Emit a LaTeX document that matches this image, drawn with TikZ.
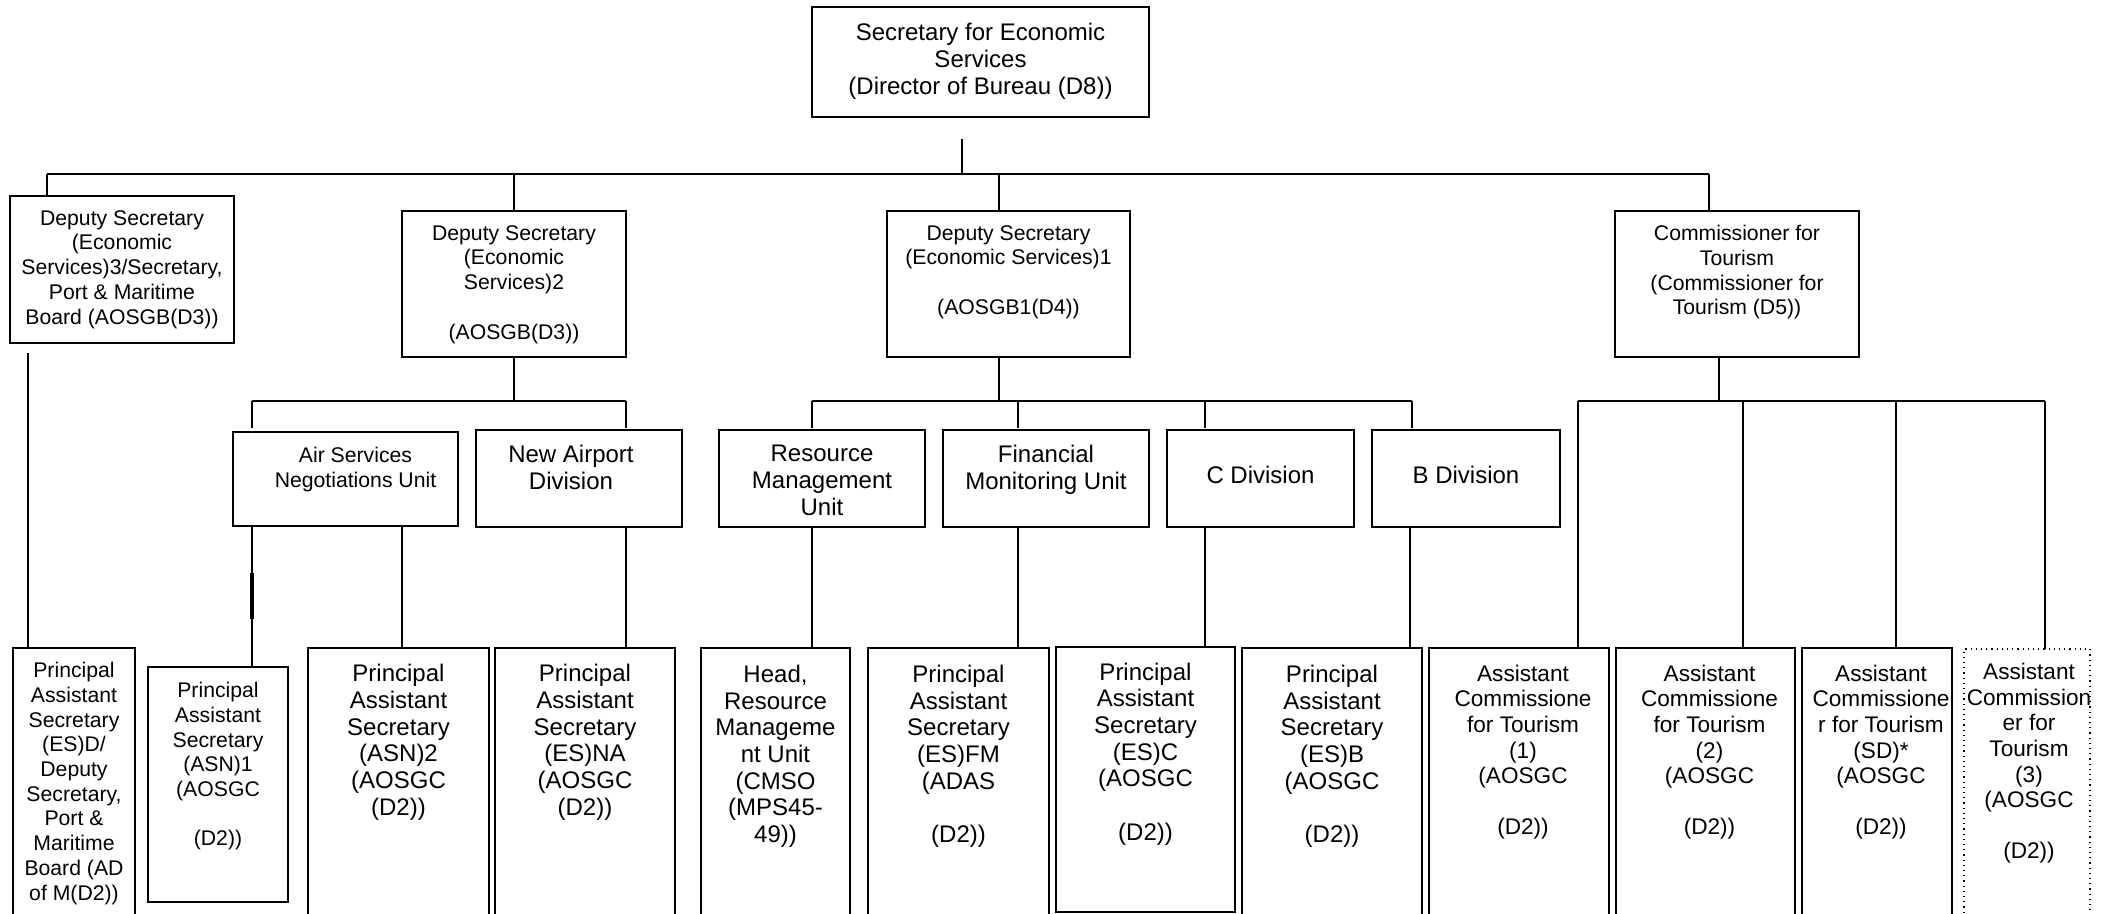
\documentclass[tikz,border=0pt]{standalone}
\usepackage{fontspec}
\setmainfont{Liberation Sans}
\tikzset{
  boxst/.style={draw, line width=0.9pt, inner sep=0pt, outer sep=0pt},
  dotbox/.style={draw, line width=0.6pt, dotted, inner sep=0pt, outer sep=0pt},
  conn/.style={line width=0.8pt},
  txt/.style={anchor=north, align=center, inner sep=0pt},
  fA/.style={font=\fontsize{12}{13.35}\selectfont},
  fB/.style={font=\fontsize{10.6}{12.35}\selectfont},
  fC/.style={font=\fontsize{11.3}{12.8}\selectfont},
}
\newcommand{\orgbox}[6]{%
  \pgfmathsetmacro\bw{(#4-#2)*0.5}\pgfmathsetmacro\bh{(#5-#3)*0.5}%
  \node[#6, minimum width=\bw pt, minimum height=\bh pt, anchor=north west] (#1) at (#2,#3) {};}
\newcommand{\orgtext}[4]{%
  \node[txt,#3] (#1-t) at ([#2]#1.north) {#4};}
\begin{document}
\begin{tikzpicture}[x=0.5pt,y=-0.5pt]
\clip (0,0) rectangle (2109,914);
\fill[white] (0,0) rectangle (2109,914);
% ---- boxes ----
\orgbox{top}{812}{7}{1149}{117}{boxst}
\orgbox{ds3}{10}{196}{234}{343}{boxst}
\orgbox{ds2}{402}{211}{626}{357}{boxst}
\orgbox{ds1}{887}{211}{1130}{357}{boxst}
\orgbox{comm}{1615}{211}{1859}{357}{boxst}
\orgbox{asn}{233}{432}{458}{526}{boxst}
\orgbox{nad}{476}{430}{682}{527}{boxst}
\orgbox{rmu}{719}{430}{925}{527}{boxst}
\orgbox{fmu}{943}{430}{1149}{527}{boxst}
\orgbox{cdiv}{1167}{430}{1354}{527}{boxst}
\orgbox{bdiv}{1372}{430}{1560}{527}{boxst}
\orgbox{esd}{13}{648}{135}{930}{boxst}
\orgbox{asn1}{148}{667}{288}{902}{boxst}
\orgbox{asn2}{308}{648}{489}{930}{boxst}
\orgbox{esna}{495}{648}{675}{930}{boxst}
\orgbox{head}{701}{648}{850}{930}{boxst}
\orgbox{esfm}{868}{648}{1049}{930}{boxst}
\orgbox{esc}{1056}{647}{1235}{912}{boxst}
\orgbox{esb}{1242}{648}{1422}{930}{boxst}
\orgbox{ac1}{1429}{648}{1609}{930}{boxst}
\orgbox{ac2}{1616}{648}{1795}{930}{boxst}
\orgbox{acsd}{1802}{648}{1952}{930}{boxst}
\orgbox{ac3}{1964}{649}{2090}{930}{dotbox}
% ---- texts ----
\orgtext{top}{yshift=-8pt}{fA}{Secretary for Economic\\Services\\(Director of Bureau (D8))}
\orgtext{ds3}{yshift=-7pt}{fB}{Deputy Secretary\\(Economic\\Services)3/Secretary,\\Port \& Maritime\\Board (AOSGB(D3))}
\orgtext{ds2}{yshift=-7pt}{fB}{Deputy Secretary\\(Economic\\Services)2\\~\\(AOSGB(D3))}
\orgtext{ds1}{yshift=-7pt}{fB}{Deputy Secretary\\(Economic Services)1\\~\\(AOSGB1(D4))}
\orgtext{comm}{yshift=-7pt}{fB}{Commissioner for\\Tourism\\(Commissioner for\\Tourism (D5))}
\orgtext{asn}{xshift=5pt,yshift=-7.5pt}{fB}{Air Services\\Negotiations Unit}
\orgtext{nad}{xshift=-4pt,yshift=-7.5pt}{fA}{New Airport\\Division}
\orgtext{rmu}{yshift=-7.5pt}{fA}{Resource\\Management\\Unit}
\orgtext{fmu}{yshift=-7.5pt}{fA}{Financial\\Monitoring Unit}
\orgtext{cdiv}{yshift=-18pt}{fA}{C Division}
\orgtext{bdiv}{yshift=-18pt}{fA}{B Division}
\orgtext{esd}{yshift=-7pt}{fB}{Principal\\Assistant\\Secretary\\(ES)D/\\Deputy\\Secretary,\\Port \&\\Maritime\\Board (AD\\of M(D2))}
\orgtext{asn1}{yshift=-7.5pt}{fB}{Principal\\Assistant\\Secretary\\(ASN)1\\(AOSGC\\~\\(D2))}
\orgtext{asn2}{yshift=-8pt}{fA}{Principal\\Assistant\\Secretary\\(ASN)2\\(AOSGC\\(D2))}
\orgtext{esna}{yshift=-8pt}{fA}{Principal\\Assistant\\Secretary\\(ES)NA\\(AOSGC\\(D2))}
\orgtext{head}{yshift=-8.3pt}{fA}{Head,\\Resource\\Manageme\\nt Unit\\(CMSO\\(MPS45-\\49))}
\orgtext{esfm}{yshift=-8.3pt}{fA}{Principal\\Assistant\\Secretary\\(ES)FM\\(ADAS\\~\\(D2))}
\orgtext{esc}{yshift=-7.7pt}{fA}{Principal\\Assistant\\Secretary\\(ES)C\\(AOSGC\\~\\(D2))}
\orgtext{esb}{yshift=-8.3pt}{fA}{Principal\\Assistant\\Secretary\\(ES)B\\(AOSGC\\~\\(D2))}
\orgtext{ac1}{xshift=2pt,yshift=-8.3pt}{fC}{Assistant\\Commissione\\for Tourism\\(1)\\(AOSGC\\~\\(D2))}
\orgtext{ac2}{xshift=2pt,yshift=-8.3pt}{fC}{Assistant\\Commissione\\for Tourism\\(2)\\(AOSGC\\~\\(D2))}
\orgtext{acsd}{xshift=2pt,yshift=-8.3pt}{fC}{Assistant\\Commissione\\r for Tourism\\(SD)*\\(AOSGC\\~\\(D2))}
\orgtext{ac3}{xshift=1pt,yshift=-7pt}{fC}{Assistant\\Commission\\er for\\Tourism\\(3)\\(AOSGC\\~\\(D2))}
% ---- connectors ----
\coordinate (t0) at (962,139);
\coordinate (busL) at (47,174);
\coordinate (busR) at (1709,174);
\draw[conn] (t0) -- (962,174);
\draw[conn] (busL) -- (busR);
\draw[conn] (busL) -- (busL |- ds3.north);
\draw[conn] (514,174) -- (514,0 |- ds2.north);
\draw[conn] (999,174) -- (999,0 |- ds1.north);
\draw[conn] (busR) -- (busR |- comm.north);
% DS3 to ESD
\coordinate (d3) at (28,353);
\draw[conn] (d3) -- (d3 |- esd.north);
% DS2 group
\coordinate (s2L) at (252,401);
\coordinate (s2R) at (626,401);
\draw[conn] (514,0 |- ds2.south) -- (514,401);
\draw[conn] (s2L) -- (s2R);
\draw[conn] (s2L) -- (252,428);
\draw[conn] (s2R) -- (626,428);
\draw[conn] (252,0 |- asn.south) -- (252,0 |- asn1.north);
\draw[line width=1.8pt] (252,573) -- (252,619);
\draw[conn] (402,0 |- asn.south) -- (402,0 |- asn2.north);
\draw[conn] (626,0 |- nad.south) -- (626,0 |- esna.north);
% DS1 group
\coordinate (s1L) at (812,401);
\coordinate (s1R) at (1412,401);
\draw[conn] (999,0 |- ds1.south) -- (999,401);
\draw[conn] (s1L) -- (s1R);
\foreach \xx in {812,1018,1205,1412} \draw[conn] (\xx,401) -- (\xx,428);
\draw[conn] (812,0 |- rmu.south) -- (812,0 |- head.north);
\draw[conn] (1018,0 |- fmu.south) -- (1018,0 |- esfm.north);
\draw[conn] (1205,0 |- cdiv.south) -- (1205,0 |- esc.north);
\draw[conn] (1410,0 |- bdiv.south) -- (1410,0 |- esb.north);
% Tourism group
\coordinate (s4L) at (1578,401);
\coordinate (s4R) at (2045,401);
\draw[conn] (1719,0 |- comm.south) -- (1719,401);
\draw[conn] (s4L) -- (s4R);
\draw[conn] (s4L) -- (s4L |- ac1.north);
\draw[conn] (1743,401) -- (1743,0 |- ac2.north);
\draw[conn] (1896,401) -- (1896,0 |- acsd.north);
\draw[conn] (s4R) -- (s4R |- ac3.north);
\end{tikzpicture}
\end{document}
